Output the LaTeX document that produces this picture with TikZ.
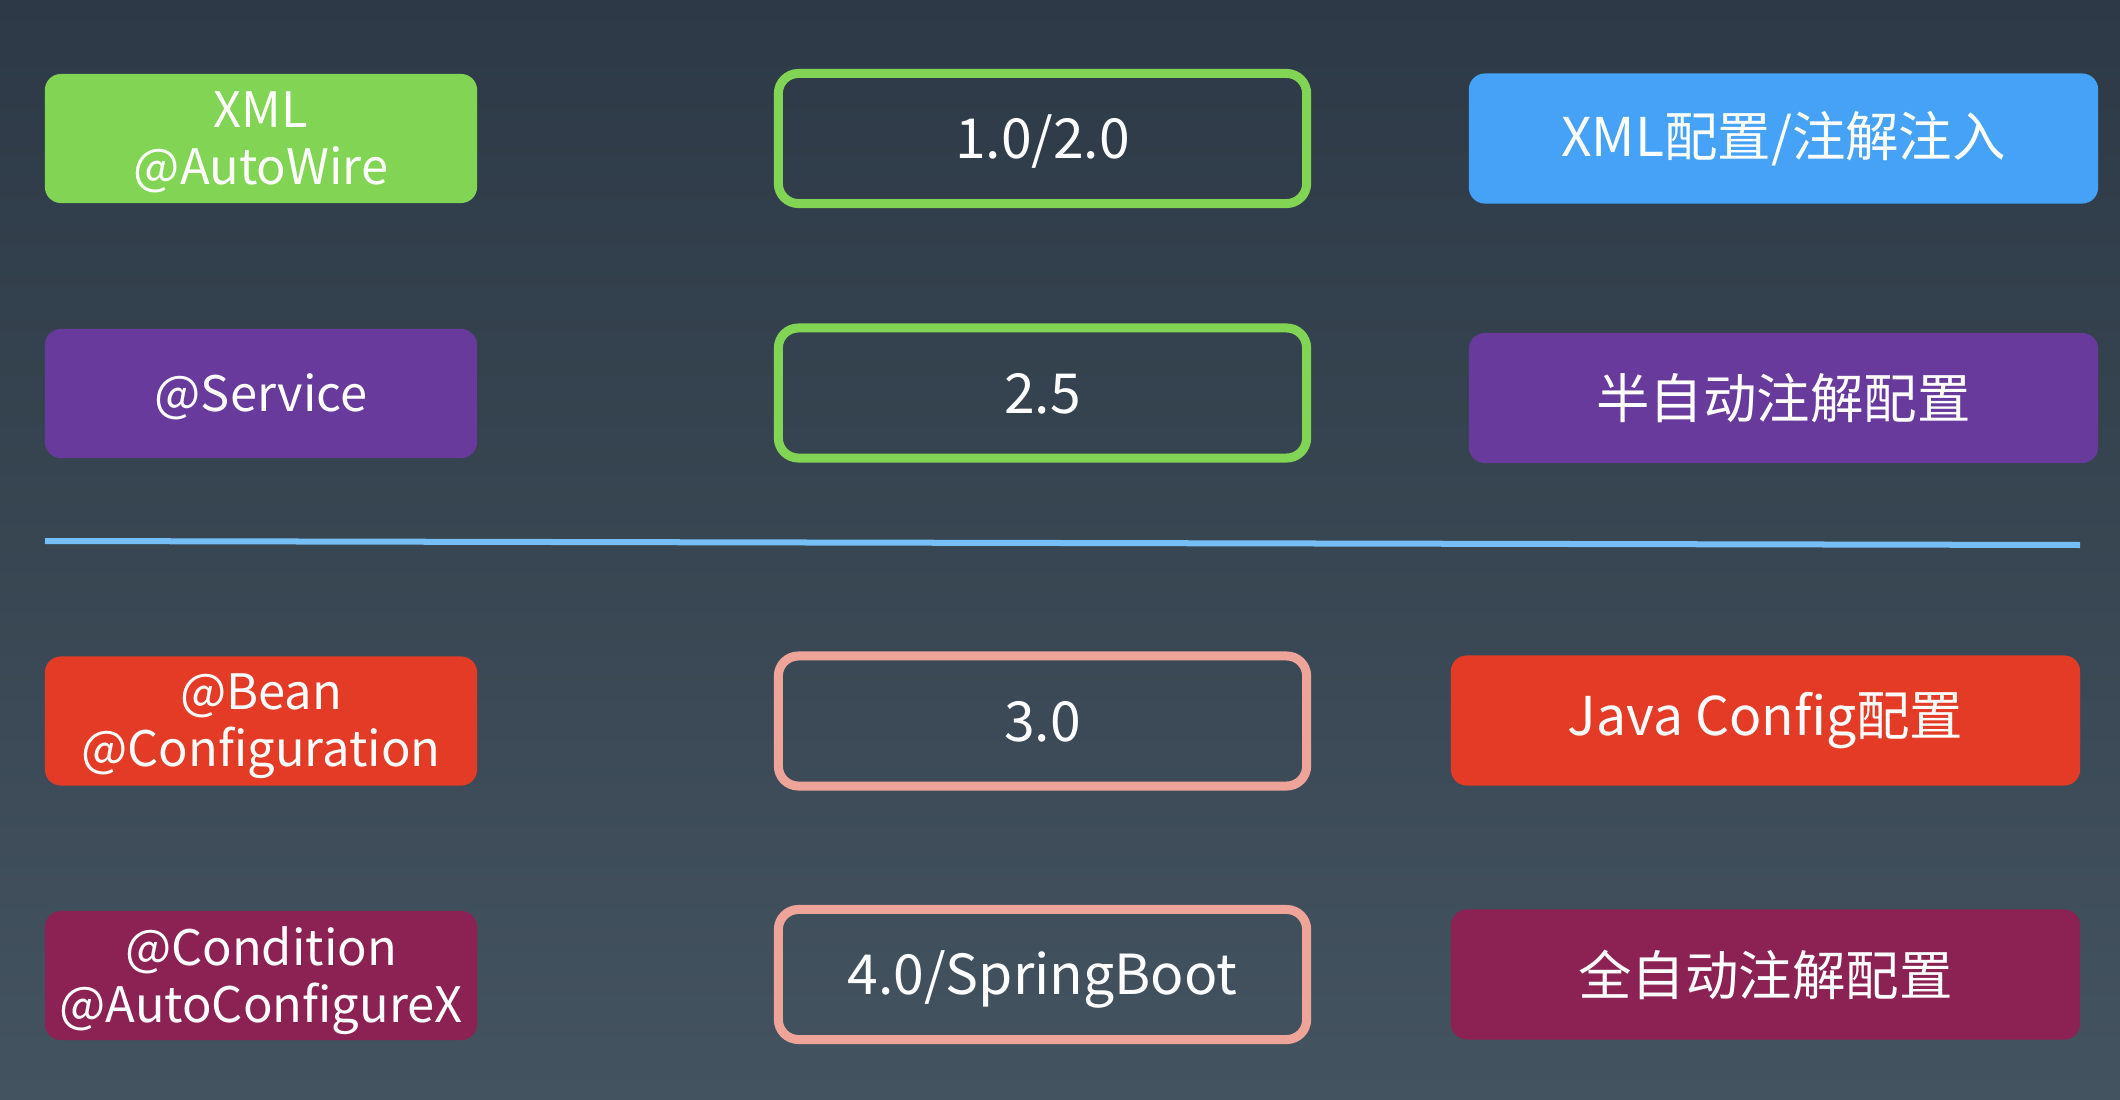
\documentclass[tikz,border=0pt]{standalone}
\usepackage{fontspec}
\setmainfont{Noto Sans CJK SC}
\usepackage{tikz}
\usetikzlibrary{shapes.misc}
\definecolor{bgtop}{HTML}{2D3946}
\definecolor{bgbot}{HTML}{43535F}
\definecolor{tgreen}{HTML}{82D455}
\definecolor{tpurple}{HTML}{673A9B}
\definecolor{tblue}{HTML}{46A2F6}
\definecolor{tred}{HTML}{E43B26}
\definecolor{tmaroon}{HTML}{8C2253}
\definecolor{vsalmon}{HTML}{EFA499}
\definecolor{sepblue}{HTML}{76BFF6}

\begin{document}
\begin{tikzpicture}[x=0.01cm,y=-0.01cm,
	tag/.style={fill=#1, rounded corners=0.16cm, inner sep=0pt,
		minimum width=4.32cm, minimum height=1.29cm, text depth=0.5pt,
		text=white, align=center, font=\fontsize{13.9}{16.2}\selectfont},
	ver/.style={draw=#1, line width=0.09cm, rounded corners=0.2cm, inner sep=0pt,
		minimum width=5.28cm, minimum height=1.30cm,
		text height=12pt, text depth=0.6pt,
		text=white, font=\fontsize{15.7}{18}\selectfont},
	desc/.style={fill=#1, rounded corners=0.16cm, inner sep=0pt,
		minimum width=6.29cm, minimum height=1.30cm,
		text=white, font=\fontsize{15.2}{18}\selectfont},
	]
	\shade[top color=bgtop, bottom color=bgbot] (0,0) rectangle (2120,1100);
	% annotations
	\node[tag=tgreen] (xml) at (261,138.5) {XML\\@AutoWire};
	\node[tag=tpurple] (svc) at (261,393.5) {@Service};
	\node[tag=tred] (bean) at (261,721) {@Bean\\@Configuration};
	\node[tag=tmaroon] (cond) at (261,975.5) {@Condition\\@AutoConfigureX};
	% versions
	\node[ver=tgreen] (v1) at (1042.5,138.5) {1.0/2.0};
	\node[ver=tgreen] (v25) at (1042.5,393) {2.5};
	\node[ver=vsalmon] (v3) at (1042.5,721) {3.0};
	\node[ver=vsalmon] (v4) at (1042.5,974.5) {4.0/SpringBoot};
	% descriptions
	\node[desc=tblue] (d1) at (1783.5,138.5) {XML配置/注解注入};
	\node[desc=tpurple] (d2) at (1783.5,398) {半自动注解配置};
	\node[desc=tred] (d3) at (1765.5,720.5) {Java Config配置};
	\node[desc=tmaroon] (d4) at (1765.5,974.5) {全自动注解配置};
	% divider
	\coordinate (sep0) at (45,541);
	\coordinate (sep1) at (2080,545);
	\draw[sepblue, line width=0.06cm] (sep0) -- (sep1);
\end{tikzpicture}
\end{document}
